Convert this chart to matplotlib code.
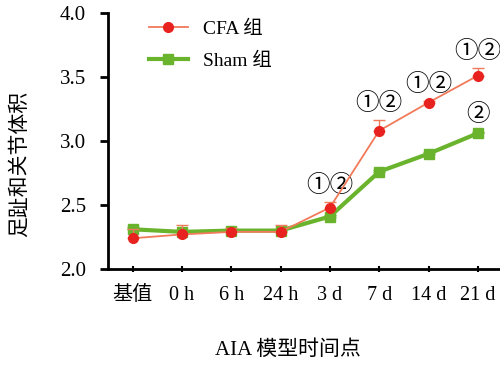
import matplotlib
matplotlib.use('Agg')
import matplotlib.pyplot as plt

plt.rcParams['font.family'] = ['Liberation Serif', 'Noto Sans CJK SC']

labels = ['基值', '0 h', '6 h', '24 h', '3 d', '7 d', '14 d', '21 d']
cfa = [2.24, 2.27, 2.29, 2.29, 2.48, 3.08, 3.30, 3.51]
cfa_err = [0.07, 0.07, 0.03, 0.05, 0.04, 0.08, 0.01, 0.06]
sham = [2.31, 2.29, 2.30, 2.30, 2.41, 2.76, 2.90, 3.06]
sham_err = [0.02, 0.01, 0.01, 0.01, 0.01, 0.01, 0.01, 0.01]
cfa_marks = ['', '', '', '', '①②', '①②', '①②', '①②']
sham_marks = ['', '', '', '', '', '', '', '②']

x = list(range(len(labels)))
zeros = [0] * len(x)

fig = plt.figure(figsize=(5, 3.69), dpi=100)
ax = fig.add_axes([0.216, 0.271, 0.784, 0.694])

ax.errorbar(x, sham, yerr=[zeros, sham_err], color='#6ab42d', lw=3,
            marker='s', ms=7, capsize=4, elinewidth=1, zorder=2)
ax.errorbar(x, cfa, yerr=[zeros, cfa_err], color='#f07a5a', lw=1.3,
            marker='o', ms=7, mfc='#e8231f', mec='#e8231f',
            ecolor='#f07a5a', capsize=4, elinewidth=1, zorder=3)

mark_font = ['Noto Sans CJK SC', 'DejaVu Sans']
for i in x:
    if cfa_marks[i]:
        ax.text(i, cfa[i] + cfa_err[i] + 0.04, cfa_marks[i], ha='center',
                va='bottom', fontsize=17, family=mark_font)
    if sham_marks[i]:
        ax.text(i, sham[i] + 0.06, sham_marks[i], ha='center', va='bottom',
                fontsize=17, family=mark_font)

ax.set_xlim(-0.5, 7.45)
ax.set_ylim(2.0, 4.0)
ax.set_yticks([2.0, 2.5, 3.0, 3.5, 4.0])
ax.set_yticklabels(['2.0', '2.5', '3.0', '3.5', '4.0'], fontsize=15)
ax.set_xticks(x)
ax.set_xticklabels(labels, fontsize=14.5)
ax.tick_params(axis='y', direction='out', length=6, width=2, pad=10)
ax.tick_params(axis='x', direction='inout', length=4, width=1.5, pad=10)

for s in ['top', 'right']:
    ax.spines[s].set_visible(False)
ax.spines['left'].set_linewidth(2)
ax.spines['bottom'].set_linewidth(2)

ax.set_ylabel('足趾和关节体积', fontsize=15)
ax.yaxis.set_label_coords(-0.20, 0.41)
ax.set_xlabel('AIA 模型时间点', fontsize=15)
ax.xaxis.set_label_coords(0.46, -0.28)

cfa_h, = ax.plot([], [], color='#f07a5a', lw=1.3, marker='o', ms=7,
                 mfc='#e8231f', mec='#e8231f')
sham_h, = ax.plot([], [], color='#6ab42d', lw=3, marker='s', ms=7)
ax.legend([cfa_h, sham_h], ['CFA 组', 'Sham 组'], loc='upper left',
          bbox_to_anchor=(0.06, 1.04), frameon=False, fontsize=14,
          handlelength=2, labelspacing=0.75)

fig.savefig('out.png', dpi=100)
